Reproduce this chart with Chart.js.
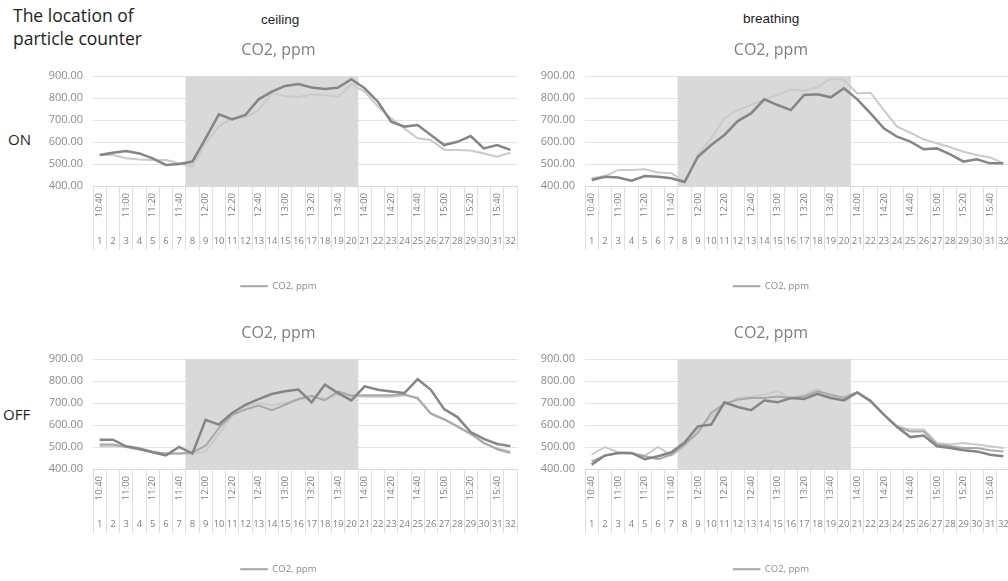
<!DOCTYPE html>
<html>
<head>
<meta charset="utf-8">
<script src="https://cdn.jsdelivr.net/npm/chart.js@4.4.1/dist/chart.umd.min.js"></script>
<style>
  html, body { margin:0; padding:0; background:#fff; }
  body { position:relative; width:1008px; height:581px; overflow:hidden; }
  .lbl { position:absolute; white-space:nowrap; }
  canvas { position:absolute; }
</style>
</head>
<body>
<div class="lbl" style="left:13px;top:4px;font:17.5px 'Open Sans',sans-serif;color:#1e1e1e;line-height:23px;">The location of<br>particle counter</div>
<div class="lbl" style="left:261px;top:12px;font:13.5px 'Liberation Sans',Arial,sans-serif;color:#1e1e1e;">ceiling</div>
<div class="lbl" style="left:743px;top:11px;font:13.5px 'Liberation Sans',Arial,sans-serif;color:#1e1e1e;">breathing</div>
<div class="lbl" style="left:8px;top:129px;font:15px 'Open Sans',sans-serif;color:#1e1e1e;">ON</div>
<div class="lbl" style="left:3px;top:404px;font:15px 'Open Sans',sans-serif;color:#1e1e1e;">OFF</div>

<canvas id="c1" width="492" height="265" style="left:40px;top:36px"></canvas>
<canvas id="c2" width="492" height="265" style="left:532px;top:36px"></canvas>
<canvas id="c3" width="492" height="265" style="left:40px;top:319px"></canvas>
<canvas id="c4" width="492" height="265" style="left:532px;top:319px"></canvas>

<script>
// Sample number and clock time of each 10-minute sample
const sampleNo = ['1','2','3','4','5','6','7','8','9','10','11','12','13','14','15','16',
                  '17','18','19','20','21','22','23','24','25','26','27','28','29','30','31','32'];
const sampleTime = ['10:40','10:50','11:00','11:10','11:20','11:30','11:40','11:50',
                    '12:00','12:10','12:20','12:30','12:40','12:50','13:00','13:10',
                    '13:20','13:30','13:40','13:50','14:00','14:10','14:20','14:30',
                    '14:40','14:50','15:00','15:10','15:20','15:30','15:40','15:50'];

// Occupied period (samples 8..20) shown as a grey band
const bandFirst = 8;
const bandLast = 20;
const yMin = 400;
const yMax = 900;

// CO2, ppm — particle counter at the ceiling, ventilation ON
const ceilingOnA = [541,551,559,548,526,496,500,511,617,726,703,723,794,829,855,864,
                    848,841,847,885,844,783,692,670,677,632,586,601,627,571,586,564];
const ceilingOnB = [541,541,526,521,518,518,503,488,594,670,708,712,745,821,809,803,
                    817,814,806,864,829,761,708,662,617,609,564,564,561,548,533,551];

// CO2, ppm — breathing zone, ventilation ON
const breathingOnA = [427,442,439,424,445,442,435,418,533,586,632,695,730,794,768,745,
                      814,817,803,844,794,730,662,624,602,567,571,544,511,521,503,503];
const breathingOnB = [435,445,473,473,476,461,458,420,541,617,708,745,768,791,814,839,
                      833,848,889,882,821,824,745,670,642,612,594,576,556,541,530,503];

// CO2, ppm — ceiling, ventilation OFF
const ceilingOffA = [533,533,503,492,476,462,500,470,624,602,655,692,718,741,753,761,
                     703,783,745,712,776,760,752,745,808,760,672,636,568,537,514,504];
const ceilingOffB = [511,511,500,488,476,470,470,476,506,586,647,670,688,667,692,718,
                     733,712,753,733,735,735,735,740,720,650,625,595,560,520,490,473];
const ceilingOffC = [503,503,503,495,480,470,470,470,480,560,640,680,700,690,700,715,
                     725,720,740,735,728,728,728,735,725,655,628,590,560,515,495,480];

// CO2, ppm — breathing zone, ventilation OFF
const breathingOffA = [420,461,473,473,445,458,476,520,594,602,703,682,667,711,703,723,
                       718,742,723,712,748,708,647,591,545,552,503,495,485,480,465,458];
const breathingOffB = [435,461,473,470,458,445,465,511,564,655,697,715,723,723,730,723,
                       730,753,738,723,748,711,647,591,571,571,511,503,495,495,485,480];
const breathingOffC = [465,500,476,473,461,500,461,503,579,636,692,723,730,738,753,723,
                       738,764,727,730,748,712,647,594,579,579,518,511,518,511,503,495];

const seriesLabel = 'CO2, ppm';
const DARK = '#858585', MID = '#a9a9a9', LIGHT = '#cacaca';

Chart.defaults.font.family = "'Open Sans', sans-serif";
Chart.defaults.color = '#808080';

const bandValues = sampleNo.map((s, i) => (i + 1 >= bandFirst && i + 1 <= bandLast) ? yMax : null);

function lineSet(data, color, width) {
  return { type: 'line', label: seriesLabel, data, borderColor: color, backgroundColor: color,
           borderWidth: width, pointRadius: 0, tension: 0, fill: false, order: 1 };
}

function makeChart(id, lines, padRight) {
  const datasets = [
    { type: 'bar', label: '', data: bandValues, backgroundColor: '#d9d9d9',
      barPercentage: 1, categoryPercentage: 1, order: 10 }
  ].concat(lines);
  return new Chart(document.getElementById(id), {
    type: 'line',
    data: { labels: sampleNo, datasets },
    options: {
      responsive: false, animation: false, devicePixelRatio: 1,
      layout: { padding: { left: 0, right: padRight, top: 0, bottom: 0 } },
      plugins: {
        tooltip: { enabled: false },
        title: { display: true, text: seriesLabel, color: '#7f7f7f',
                 font: { size: 16, weight: 'normal' }, padding: { top: 4.4, bottom: 16.4 } },
        legend: {
          position: 'bottom',
          labels: {
            boxWidth: 27, boxHeight: 1, padding: 10, color: '#8a8a8a', font: { size: 9.5 },
            filter: (item) => item.datasetIndex === 1,
            generateLabels(chart) {
              return Chart.defaults.plugins.legend.labels.generateLabels(chart).map(it => {
                it.fillStyle = '#a6a6a6'; it.strokeStyle = '#a6a6a6'; it.lineWidth = 1;
                return it;
              });
            }
          }
        }
      },
      scales: {
        y: {
          min: yMin, max: yMax,
          ticks: { stepSize: 50, padding: 10, font: { size: 11 }, color: '#8a8a8a',
                   callback: (v) => Number(v).toFixed(2) },
          grid: { color: '#e4e4e4', drawTicks: false },
          border: { display: false },
          afterFit(s) { s.width = 53; }
        },
        x2: {
          type: 'category', labels: sampleTime, position: 'bottom', offset: true, weight: 1,
          grid: { drawOnChartArea: false, drawTicks: true, tickLength: 48, offset: true, color: '#dedede' },
          border: { display: true, color: '#d9d9d9' },
          ticks: { autoSkip: false, minRotation: 90, maxRotation: 90, padding: -41,
                   font: { size: 9.5 }, color: '#7f7f7f',
                   callback(v, i) { return i % 2 === 0 ? this.getLabelForValue(v) : ''; } },
          afterFit(s) { s.height = 48; }
        },
        x: {
          type: 'category', position: 'bottom', offset: true, weight: 2,
          grid: { drawOnChartArea: false, drawTicks: true, tickLength: 16, offset: true, color: '#dedede' },
          border: { display: false },
          ticks: { autoSkip: false, minRotation: 0, maxRotation: 0, padding: -14,
                   font: { size: 9.5 }, color: '#7f7f7f' },
          afterFit(s) { s.height = 37.5; }
        }
      }
    }
  });
}

makeChart('c1', [lineSet(ceilingOnA, DARK, 2.5), lineSet(ceilingOnB, LIGHT, 2)], 15);
makeChart('c2', [lineSet(breathingOnA, DARK, 2.5), lineSet(breathingOnB, LIGHT, 2)], 14);
makeChart('c3', [lineSet(ceilingOffA, DARK, 2.5), lineSet(ceilingOffB, MID, 2), lineSet(ceilingOffC, LIGHT, 2)], 15);
makeChart('c4', [lineSet(breathingOffA, DARK, 2.5), lineSet(breathingOffB, MID, 2), lineSet(breathingOffC, LIGHT, 2)], 14);
</script>
</body>
</html>
